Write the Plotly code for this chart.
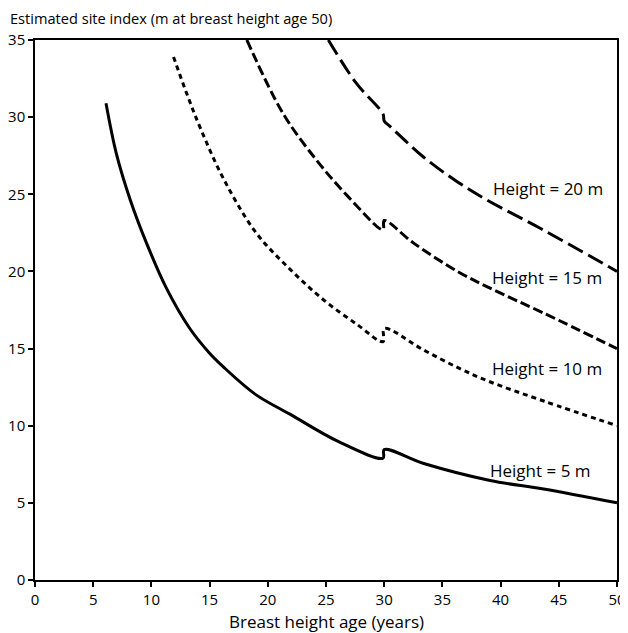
import plotly.graph_objects as go

# Breast height age (years) and estimated site index (m)
age_h5 = [6.1, 7.0, 8.2, 9.6, 11.3, 13.3, 15.0, 16.2, 19.0, 21.9, 26.0, 29.9, 30.0, 33.4, 39.1, 43.7, 50.0]
si_h5 = [30.9, 27.6, 24.6, 21.8, 18.9, 16.3, 14.7, 13.8, 12.0, 10.75, 9.0, 7.9, 8.45, 7.55, 6.45, 5.9, 5.0]

age_h10 = [11.9, 13.0, 14.2, 16.2, 19.0, 21.9, 24.8, 27.6, 29.9, 30.0, 33.4, 36.5, 38.9, 43.7, 50.0]
si_h10 = [33.9, 31.6, 29.3, 26.0, 22.5, 20.15, 18.15, 16.6, 15.45, 16.3, 14.9, 13.7, 12.9, 11.6, 10.0]

age_h15 = [18.2, 21.3, 24.2, 26.9, 29.9, 30.0, 32.5, 36.3, 39.0, 43.7, 50.0]
si_h15 = [35.0, 30.25, 27.2, 24.85, 22.7, 23.3, 21.85, 20.0, 18.95, 17.3, 15.0]

age_h20 = [25.2, 27.6, 29.9, 30.0, 30.5, 33.4, 36.3, 38.9, 43.4, 50.0]
si_h20 = [35.0, 32.2, 30.2, 29.75, 29.4, 27.4, 25.8, 24.6, 22.8, 20.0]

label_text = ["Height = 20 m", "Height = 15 m", "Height = 10 m", "Height = 5 m"]
label_age = [39.2, 39.1, 39.1, 38.9]
label_si = [25.4, 19.6, 13.7, 7.1]

FONT = "Open Sans"

fig = go.Figure()
series = [
    (age_h5, si_h5, "solid"),
    (age_h10, si_h10, "5px,4px"),
    (age_h15, si_h15, "10px,4px"),
    (age_h20, si_h20, "17px,6px"),
]
for xs, ys, dash in series:
    fig.add_trace(go.Scatter(
        x=xs, y=ys, mode="lines",
        line=dict(color="black", width=3, dash=dash, shape="spline", smoothing=1.0),
        showlegend=False, hoverinfo="skip", cliponaxis=True,
    ))

for t, xa, ya in zip(label_text, label_age, label_si):
    fig.add_annotation(x=xa, y=ya, text=t, showarrow=False, xanchor="left", yanchor="middle",
                       font=dict(family=FONT, size=17, color="black"))

fig.add_annotation(xref="paper", yref="paper", x=-0.047, y=1.041, xanchor="left", yanchor="middle",
                   text="Estimated site index (m at breast height age 50)", showarrow=False,
                   font=dict(family=FONT, size=14.6, color="black"))
fig.add_annotation(xref="paper", yref="paper", x=0.5, y=-0.076, xanchor="center", yanchor="middle",
                   text="Breast height age (years)", showarrow=False,
                   font=dict(family=FONT, size=17, color="black"))

axis_common = dict(showgrid=False, zeroline=False, showline=True, linecolor="black", linewidth=1.5,
                   mirror=True, ticks="outside", ticklen=5, tickwidth=1.5, tickcolor="black",
                   ticklabeloverflow="allow",
                   tickfont=dict(family=FONT, size=15, color="black"))
fig.update_xaxes(range=[0, 50], tickvals=list(range(0, 51, 5)), **axis_common)
fig.update_yaxes(range=[0, 35], tickvals=list(range(0, 36, 5)), **axis_common)

# the page body adds an 8px offset, so the figure is 8px smaller on each axis
fig.update_layout(
    width=620, height=625,
    margin=dict(l=27, r=11, t=32, b=53, autoexpand=False),
    plot_bgcolor="white", paper_bgcolor="white",
)
fig.write_html("out.html")
